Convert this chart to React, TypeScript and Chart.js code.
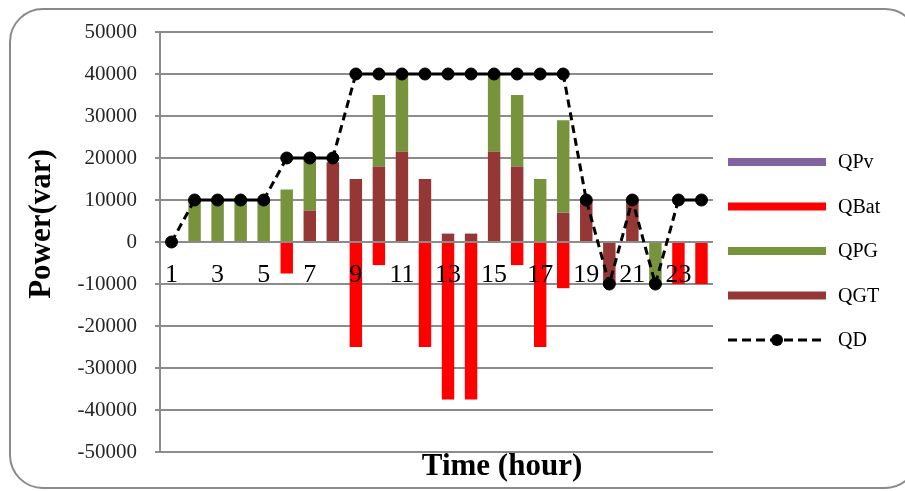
import React, { useEffect, useRef } from 'react';
import { Chart, registerables } from 'chart.js';

Chart.register(...registerables);

const hours = ['1','2','3','4','5','6','7','8','9','10','11','12','13','14','15','16','17','18','19','20','21','22','23','24'];
const qpv = [0,0,0,0,0,0,0,0,0,0,0,0,0,0,0,0,0,0,0,0,0,0,0,0];
const qbat = [0,0,0,0,0,-7500,0,0,-25000,-5500,0,-25000,-37500,-37500,0,-5500,-25000,-11000,0,0,0,0,-10000,-10000];
const qpg = [0,10000,10000,10000,10000,12500,12500,0,0,17000,18500,0,0,0,18500,17000,15000,22000,0,0,0,-10000,0,0];
const qgt = [0,0,0,0,0,0,7500,19000,15000,18000,21500,15000,2000,2000,21500,18000,0,7000,10000,-10000,10000,0,0,0];
const qd = [0,10000,10000,10000,10000,20000,20000,20000,40000,40000,40000,40000,40000,40000,40000,40000,40000,40000,10000,-10000,10000,-10000,10000,10000];

const yMin = -50000;
const yMax = 50000;
const yStep = 10000;

const legendOrder = ['QPv', 'QBat', 'QPG', 'QGT', 'QD'];
const xTitle = 'Time (hour)';
const yTitle = 'Power(var)';

const FONT = '"Liberation Serif", "Times New Roman", serif';

const decorPlugin = {
  id: 'decor',
  afterDraw(chart: any) {
    const ctx = chart.ctx as CanvasRenderingContext2D;
    ctx.save();
    ctx.fillStyle = '#000';
    ctx.font = `bold 31px ${FONT}`;
    ctx.textAlign = 'center';
    ctx.textBaseline = 'middle';
    ctx.fillText(xTitle, 502, 467);
    ctx.save();
    ctx.translate(42, 224);
    ctx.rotate(-Math.PI / 2);
    ctx.fillText(yTitle, 0, 0);
    ctx.restore();

    // legend
    const x0 = 728;
    const x1 = 826;
    legendOrder.forEach((name, i) => {
      const ds = chart.data.datasets.find((d: any) => d.label === name);
      if (!ds) return;
      const y = 162 + i * 44.5;
      if (ds.type === 'line') {
        ctx.save();
        ctx.strokeStyle = ds.borderColor;
        ctx.lineWidth = 3;
        ctx.setLineDash([9, 5]);
        ctx.beginPath();
        ctx.moveTo(x0, y);
        ctx.lineTo(x1, y);
        ctx.stroke();
        ctx.setLineDash([]);
        ctx.fillStyle = ds.pointBackgroundColor;
        ctx.beginPath();
        ctx.arc((x0 + x1) / 2, y, 6, 0, Math.PI * 2);
        ctx.fill();
        ctx.restore();
      } else {
        ctx.fillStyle = ds.backgroundColor;
        ctx.fillRect(x0, y - 4, x1 - x0, 8);
      }
      ctx.fillStyle = '#000';
      ctx.font = `20px ${FONT}`;
      ctx.textAlign = 'left';
      ctx.textBaseline = 'middle';
      ctx.fillText(name, 838, y + 1);
    });
    ctx.restore();
  },
};

export default function App() {
  const ref = useRef<HTMLCanvasElement>(null);

  useEffect(() => {
    if (!ref.current) return;
    Chart.defaults.font.family = FONT;
    const chart = new Chart(ref.current, {
      type: 'bar',
      data: {
        labels: hours,
        datasets: [
          {
            type: 'line',
            label: 'QD',
            data: qd,
            borderColor: '#000',
            backgroundColor: '#000',
            borderWidth: 3,
            borderDash: [8, 5],
            pointRadius: 6,
            pointBackgroundColor: '#000',
            pointBorderColor: '#000',
            pointBorderWidth: 1,
            order: -1,
            stack: 'line',
            segment: {
              borderDash: (c: any) => (c.p0.parsed.y === c.p1.parsed.y ? [] : [8, 5]),
            },
          } as any,
          { label: 'QGT', data: qgt, backgroundColor: '#953735', stack: 's' },
          { label: 'QPG', data: qpg, backgroundColor: '#77933C', stack: 's' },
          { label: 'QBat', data: qbat, backgroundColor: '#FF0000', stack: 's' },
          { label: 'QPv', data: qpv, backgroundColor: '#8064A2', stack: 's' },
        ],
      },
      options: {
        responsive: false,
        animation: false,
        devicePixelRatio: 1,
        layout: { padding: { left: 0, top: 32, right: 192, bottom: 39 } },
        datasets: {
          bar: { barPercentage: 0.54, categoryPercentage: 1, borderWidth: 0 },
        },
        plugins: {
          legend: { display: false },
          tooltip: { enabled: false },
          title: { display: false },
        },
        scales: {
          x: {
            position: { y: 0 } as any,
            stacked: true,
            grid: { display: false, drawTicks: false },
            border: { display: false },
            ticks: {
              z: 1,
              autoSkip: false,
              maxRotation: 0,
              minRotation: 0,
              padding: 18,
              color: '#000',
              font: { size: 26, family: FONT },
              callback: (_v: any, i: number) => (i % 2 === 0 ? hours[i] : ''),
            },
          },
          y: {
            stacked: true,
            min: yMin,
            max: yMax,
            ticks: {
              stepSize: yStep,
              padding: 18,
              color: '#262626',
              font: { size: 21, family: FONT },
              callback: (v: any) => String(v),
            },
            grid: { color: '#8c8c8c', lineWidth: 2, tickLength: 5 },
            border: { color: '#8c8c8c', width: 2 },
            afterFit: (s: any) => {
              s.width = 160;
            },
          },
        },
      },
      plugins: [decorPlugin],
    });
    return () => chart.destroy();
  }, []);

  return (
    <div style={{ position: 'fixed', left: 0, top: 0, width: 905, height: 491, overflow: 'hidden', background: '#fff' }}>
      <div
        style={{
          position: 'absolute',
          left: 9,
          top: 8,
          width: 910,
          height: 481,
          boxSizing: 'border-box',
          border: '2.5px solid #8a8a8a',
          borderRadius: 34,
        }}
      />
      <canvas ref={ref} width={905} height={491} style={{ position: 'absolute', left: 0, top: 0, width: 905, height: 491 }} />
    </div>
  );
}
